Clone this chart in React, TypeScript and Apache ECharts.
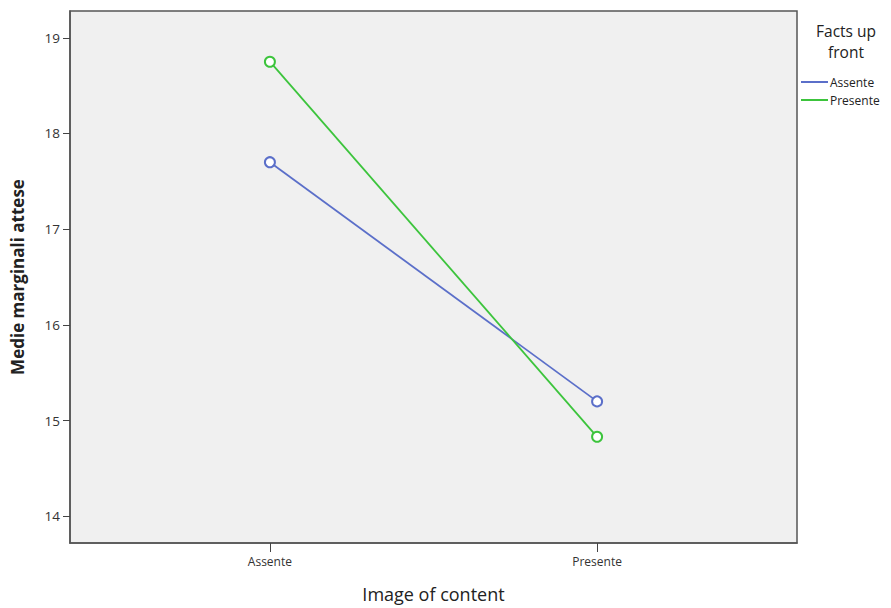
import React, { useEffect, useRef } from "react";
import * as echarts from "echarts";

const categories = ["Assente", "Presente"];
const seriesNames = ["Assente", "Presente"];
const assenteValues = [17.7, 15.2];
const presenteValues = [18.75, 14.83];
const yTicks = [14, 15, 16, 17, 18, 19];
const legendTitleLines = ["Facts up", "front"];
const colors = ["#5b6fc9", "#3cc43c"];

export default function App() {
  const ref = useRef<HTMLDivElement>(null);
  useEffect(() => {
    if (!ref.current) return;
    const chart = echarts.init(ref.current, undefined, { renderer: "svg" });
    const font = "'Open Sans', 'DejaVu Sans', sans-serif";
    const mk = (vals: number[]) => vals.map((v, i) => [i, v]);
    chart.setOption({
      animation: false,
      textStyle: { fontFamily: font },
      grid: {
        left: 70,
        top: 11,
        width: 727,
        height: 532,
        show: true,
        backgroundColor: "#f0f0f0",
        borderColor: "#555",
        borderWidth: 1.5,
        containLabel: false,
        outerBoundsMode: "none",
      },
      xAxis: {
        type: "value",
        min: -0.611,
        max: 1.611,
        name: "Image of content",
        nameLocation: "middle",
        nameGap: 42,
        nameTextStyle: { fontSize: 18, color: "#222", fontFamily: font },
        axisLine: { show: true, onZero: false, lineStyle: { color: "#555", width: 1.5 } },
        axisTick: { show: true, customValues: [0, 1], length: 9, lineStyle: { color: "#444" } },
        axisLabel: {
          customValues: [0, 1],
          formatter: (v: number) => categories[Math.round(v)] ?? "",
          fontSize: 12,
          color: "#333",
          margin: 12,
        },
        splitLine: { show: false },
      },
      yAxis: {
        type: "value",
        min: 13.72,
        max: 19.28,
        name: "Medie marginali attese",
        nameLocation: "middle",
        nameGap: 44,
        nameTextStyle: { fontSize: 17, fontWeight: "bold", color: "#222", fontFamily: font },
        axisLine: { show: true, onZero: false, lineStyle: { color: "#555", width: 1.5 } },
        axisTick: { show: true, customValues: yTicks, length: 7, lineStyle: { color: "#444" } },
        axisLabel: { customValues: yTicks, fontSize: 13.5, color: "#333", margin: 10 },
        splitLine: { show: false },
      },
      legend: {
        orient: "vertical",
        left: 796,
        top: 71,
        itemWidth: 27,
        itemHeight: 2,
        itemGap: 6,
        icon: "rect",
        textStyle: { fontSize: 12, color: "#222", padding: [0, 0, 0, -3] },
        data: seriesNames,
      },
      graphic: legendTitleLines.map((t, i) => ({
        type: "text",
        x: 846,
        y: 31 + i * 21,
        style: {
          text: t,
          fontSize: 15.5,
          fill: "#222",
          textAlign: "center",
          textVerticalAlign: "middle",
          fontFamily: font,
        },
        silent: true,
      })),
      series: [
        {
          name: seriesNames[0],
          type: "line",
          data: mk(assenteValues),
          symbol: "emptyCircle",
          symbolSize: 10,
          color: colors[0],
          lineStyle: { width: 1.8, color: colors[0] },
          itemStyle: { color: colors[0], borderWidth: 1.5 },
        },
        {
          name: seriesNames[1],
          type: "line",
          data: mk(presenteValues),
          symbol: "emptyCircle",
          symbolSize: 10,
          color: colors[1],
          lineStyle: { width: 1.8, color: colors[1] },
          itemStyle: { color: colors[1], borderWidth: 1.5 },
        },
      ],
    });
    return () => chart.dispose();
  }, []);
  return (
    <div
      ref={ref}
      style={{ position: "fixed", left: 0, top: 0, width: 891, height: 608, background: "#fff" }}
    />
  );
}
